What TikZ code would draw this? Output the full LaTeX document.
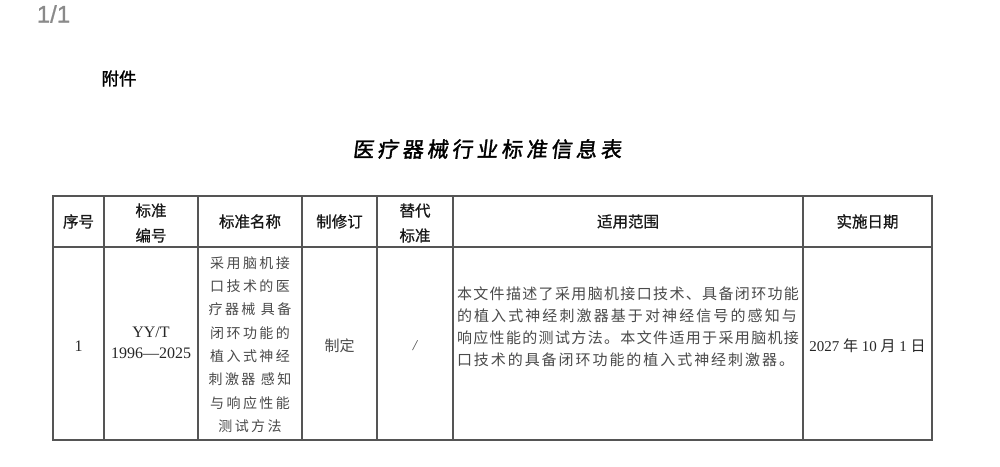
\documentclass[tikz,border=0pt]{standalone}
\usepackage{fontspec}
\setmainfont{Liberation Serif}
\newfontfamily\cjk{Noto Sans CJK SC}
\newfontfamily\cjkhead[FakeBold=0.8]{Noto Sans CJK SC}
\newfontfamily\cjkbold[FakeBold=1.4]{Noto Sans CJK SC}
\newfontfamily\cjkname[LetterSpace=17]{Noto Sans CJK SC}
\newfontfamily\cjktitle[LetterSpace=18,FakeSlant=0.12,FakeBold=1.6]{Noto Sans CJK SC}
\newfontfamily\pagenum[FakeBold=0.8]{Liberation Sans}
\definecolor{gridc}{HTML}{555555}
\definecolor{bodyc}{HTML}{4A4A4A}
\definecolor{pagec}{HTML}{8A8A8A}
\begin{document}
\begin{tikzpicture}[x=1pt,y=-1pt,
  every node/.style={inner sep=0pt,outer sep=0pt},
  gridline/.style={draw=gridc,line width=1.1pt},
  headtxt/.style={font=\fontsize{15.5}{25}\selectfont\cjkhead,align=center,text=black!90},
  bodytxt/.style={text=bodyc},
  scopeline/.style={anchor=west,text=bodyc,font=\fontsize{15}{22}\selectfont\cjk}]
\useasboundingbox (0,0) rectangle (1000,466);
\fill[white] (0,0) rectangle (1000,466);
% page number and heading
\node[text=pagec,font=\fontsize{24}{26}\selectfont\pagenum] (pg) at (53.5,14) {1/1};
\node[font=\fontsize{17.5}{20}\selectfont\cjkbold] (fj) at (119,78.5) {附件};
\node[font=\fontsize{21}{24}\selectfont\cjktitle] (title) at (487,149) {医疗器械行业标准信息表};
% table grid
\draw[gridline] (53,196) rectangle (932,440);
\draw[gridline] (53,247) -- (932,247);
\foreach \cx in {104,198,302,377,453,803}{\draw[gridline] (\cx,196) -- (\cx,440);}
% header
\node[headtxt] (h1) at (78.5,221.5) {序号};
\node[headtxt] (h2) at (151,223) {标准\\编号};
\node[headtxt] (h3) at (250,221.5) {标准名称};
\node[headtxt] (h4) at (339.5,221.5) {制修订};
\node[headtxt] (h5) at (415,223) {替代\\标准};
\node[headtxt] (h6) at (628,221.5) {适用范围};
\node[headtxt] (h7) at (867.5,221.5) {实施日期};
% body
\node[bodytxt,text=black!85,font=\fontsize{16}{20}\selectfont] (b1) at (78.5,346) {1};
\node[bodytxt,text=black!85,font=\fontsize{16}{21.5}\selectfont,align=center] (b2) at (151,343) {YY/T\\1996—2025};
\node[bodytxt,font=\fontsize{14}{23.3}\selectfont\cjkname,align=center] (b3) at (250,344.5)
  {采用脑机接\\口技术的医\\疗器械 具备\\闭环功能的\\植入式神经\\刺激器 感知\\与响应性能\\测试方法};
\node[bodytxt,font=\fontsize{15}{20}\selectfont\cjk] (b4) at (339.5,346) {制定};
\node[bodytxt,font=\fontsize{15}{20}\selectfont\itshape] (b5) at (415,346) {/};
\node[scopeline] (s1) at (457,294) {\addfontfeatures{LetterSpace=9}本文件描述了采用脑机接口技术、具备闭环功能};
\node[scopeline] (s2) at (457,316) {\addfontfeatures{LetterSpace=14}的植入式神经刺激器基于对神经信号的感知与};
\node[scopeline] (s3) at (457,338) {\addfontfeatures{LetterSpace=9}响应性能的测试方法。本文件适用于采用脑机接};
\node[scopeline] (s4) at (457,360) {\addfontfeatures{LetterSpace=13}口技术的具备闭环功能的植入式神经刺激器。};
\node[bodytxt,text=black!85,font=\fontsize{15}{20}\selectfont] (b7) at (867.5,346)
  {2027 {\cjk 年} 10 {\cjk 月} 1 {\cjk 日}};
\end{tikzpicture}
\end{document}
